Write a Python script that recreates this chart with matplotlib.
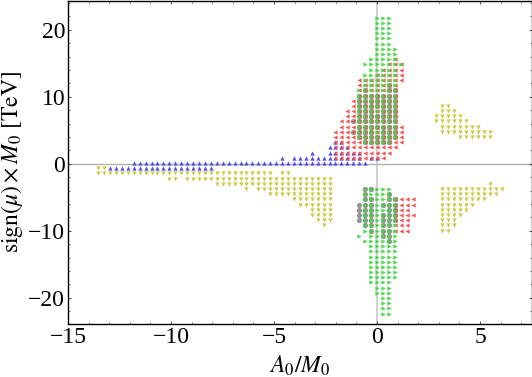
import matplotlib
matplotlib.use("Agg")
import matplotlib.pyplot as plt
from matplotlib.ticker import MultipleLocator

plt.rcParams['font.family'] = ['Liberation Serif', 'DejaVu Serif']
plt.rcParams['mathtext.fontset'] = 'stix'

# Parameter-scan lattice
A0_STEP = 0.288
M0_STEP = 0.775
M0_OFFSET = 0.12

# row index -> list of (first column, last column) spans on the lattice
blue_rows = {
    4: [(-7, -6)], 3: [(-8, -5)], 2: [(-11, -11), (-8, -3)],
    1: [(-16, -16), (-14, -3), (-1, 0)], 0: [(-41, -2)], -1: [(-45, -28)],
}
yellow_rows = {
    11: [(11, 12)], 10: [(11, 13)], 9: [(10, 14)], 8: [(10, 15)],
    7: [(11, 17)], 6: [(11, 19)], 5: [(14, 19)],
    -1: [(-47, -46)], -2: [(-47, -18), (-16, -15)],
    -3: [(-35, -34), (-32, -8)], -4: [(-27, -8), (19, 19)],
    -5: [(-22, -22), (-20, -8), (11, 21)], -6: [(-18, -8), (11, 20)],
    -7: [(-14, -8), (11, 18)], -8: [(-13, -8), (11, 16)],
    -9: [(-11, -8), (11, 15)], -10: [(-11, -8), (11, 14)],
    -11: [(-10, -8), (11, 13)], -12: [(-9, -9), (11, 13)], -13: [(11, 12)],
}
gray_rows = {
    15: [(2, 2)], 14: [(-2, -2), (2, 3)], 13: [(-3, 3)], 12: [(-3, 3)],
    11: [(-3, 3)], 10: [(-3, -1), (1, 3)], 9: [(-3, 3)], 8: [(-4, 3)],
    7: [(-3, 3)], 6: [(-4, -1), (1, 3)], 5: [(-3, 3)], 4: [(-2, 2)],
    -5: [(-2, -1)], -6: [(-2, -2), (2, 2)], -7: [(-2, -1), (2, 3)],
    -8: [(-3, -1), (1, 3)], -9: [(-3, -1), (2, 3)], -10: [(-3, -1), (1, 3)],
    -11: [(-3, -1), (1, 3)], -12: [(-2, -1), (1, 2)], -13: [(-1, -1), (1, 2)],
    -14: [(1, 2)], -15: [(2, 2)],
}
red_rows = {
    20: [(3, 3)], 19: [(2, 4)], 18: [(1, 4)], 17: [(0, 4)], 16: [(-3, 4)],
    15: [(-3, 3)], 14: [(-3, 3)], 13: [(-3, 3)], 12: [(-4, 3)], 11: [(-4, 3)],
    10: [(-5, 3)], 9: [(-5, 3)], 8: [(-6, 3)], 7: [(-6, 4)], 6: [(-7, 4)],
    5: [(-7, 4)], 4: [(-7, 4)], 3: [(-7, 3)], 2: [(-7, 2)], 1: [(-7, 1)],
    -7: [(3, 6)], -8: [(3, 6)], -9: [(3, 5)], -10: [(3, 6)],
    -11: [(3, 5)], -12: [(3, 5)], -13: [(3, 5)],
}
green_rows = {
    28: [(0, 2)], 27: [(0, 2)], 26: [(0, 2)], 25: [(0, 2)], 24: [(0, 2)], 23: [(0, 2)],
    22: [(0, 3)], 21: [(0, 3)], 20: [(-1, 3)], 19: [(-2, 4)], 18: [(-1, 3)],
    17: [(-2, 3)], 16: [(-2, 3)], 15: [(-2, 3)], 14: [(-3, 3)], 13: [(-3, 3)],
    12: [(-3, 3)], 11: [(-3, 3)], 10: [(-3, 3)], 9: [(-3, 3)], 8: [(-3, 3)],
    7: [(-3, 3)], 6: [(-3, 3)], 5: [(-3, 3)], 4: [(-2, 2)],
    -5: [(-2, 2)], -6: [(-2, 2)], -7: [(-2, 3)], -8: [(-2, 3)], -9: [(-2, 3)],
    -10: [(-2, 3)], -11: [(-2, 3)], -12: [(-2, 3)], -13: [(-2, 3)],
    -14: [(-3, -3), (-1, 3)], -15: [(-2, 3)], -16: [(-1, 3)], -17: [(-1, 3)],
    -18: [(-1, 3)], -19: [(-1, 3)], -20: [(-1, 3)], -21: [(-1, 3)], -22: [(-1, 3)],
    -23: [(-1, 2)], -24: [(0, 2)], -25: [(0, 2)], -26: [(1, 2)], -27: [(1, 2)],
    -28: [(1, 2)], -29: [(1, 2)],
}

x_major = [-15, -10, -5, 0, 5]
y_major = [-20, -10, 0, 10, 20]
x_label = r'$A_0/M_0$'
y_label = r'$\mathrm{sign}(\mu)\times M_0\ [\mathrm{TeV}]$'


def lattice(rows):
    xs, ys = [], []
    for r, spans in rows.items():
        for a, b in spans:
            for c in range(a, b + 1):
                xs.append(c * A0_STEP)
                ys.append(r * M0_STEP + M0_OFFSET)
    return xs, ys


W, H = 532, 377
fig = plt.figure(figsize=(W / 100, H / 100), dpi=100)
ax = fig.add_axes([68 / W, 1 - 324 / H, (531.5 - 68) / W, (324 - 1) / H])
ax.set_xlim(-15, 7.5)
ax.set_ylim(-23.9, 24.3)

ax.axhline(0, color='#b0b0b0', lw=1.0, zorder=1)
ax.axvline(0, color='#c8c8c8', lw=1.2, zorder=1)

series = [
    (gray_rows, 'o', '#8f8f8f', 3.8),
    (yellow_rows, 'v', '#c9c83c', 3.1),
    (blue_rows, '^', '#4a4ae6', 3.1),
    (red_rows, '<', '#f25050', 3.1),
    (green_rows, '>', '#40d640', 3.1),
]
for i, (rows, marker, color, size) in enumerate(series):
    xs, ys = lattice(rows)
    ax.plot(xs, ys, ls='none', marker=marker, ms=size, mfc=color, mec='none',
            alpha=0.95, zorder=2 + i)

ax.set_xticks(x_major)
ax.set_yticks(y_major)
ax.set_xticklabels(['\u2212%d' % abs(v) if v < 0 else str(v) for v in x_major])
ax.set_yticklabels(['\u2212%d' % abs(v) if v < 0 else str(v) for v in y_major])
ax.xaxis.set_minor_locator(MultipleLocator(1))
ax.yaxis.set_minor_locator(MultipleLocator(2))
ax.tick_params(which='major', direction='in', top=True, right=True, length=2.5, width=0.6,
               labelsize=17, pad=2, color='#333333')
ax.tick_params(which='minor', direction='in', top=True, right=True, length=1.3, width=0.5, color='#333333')
for s in ax.spines.values():
    s.set_linewidth(1.0)
ax.set_xlabel(x_label, fontsize=17, labelpad=4)
ax.set_ylabel(y_label, fontsize=17, labelpad=2)

fig.savefig('out.png', dpi=100)
